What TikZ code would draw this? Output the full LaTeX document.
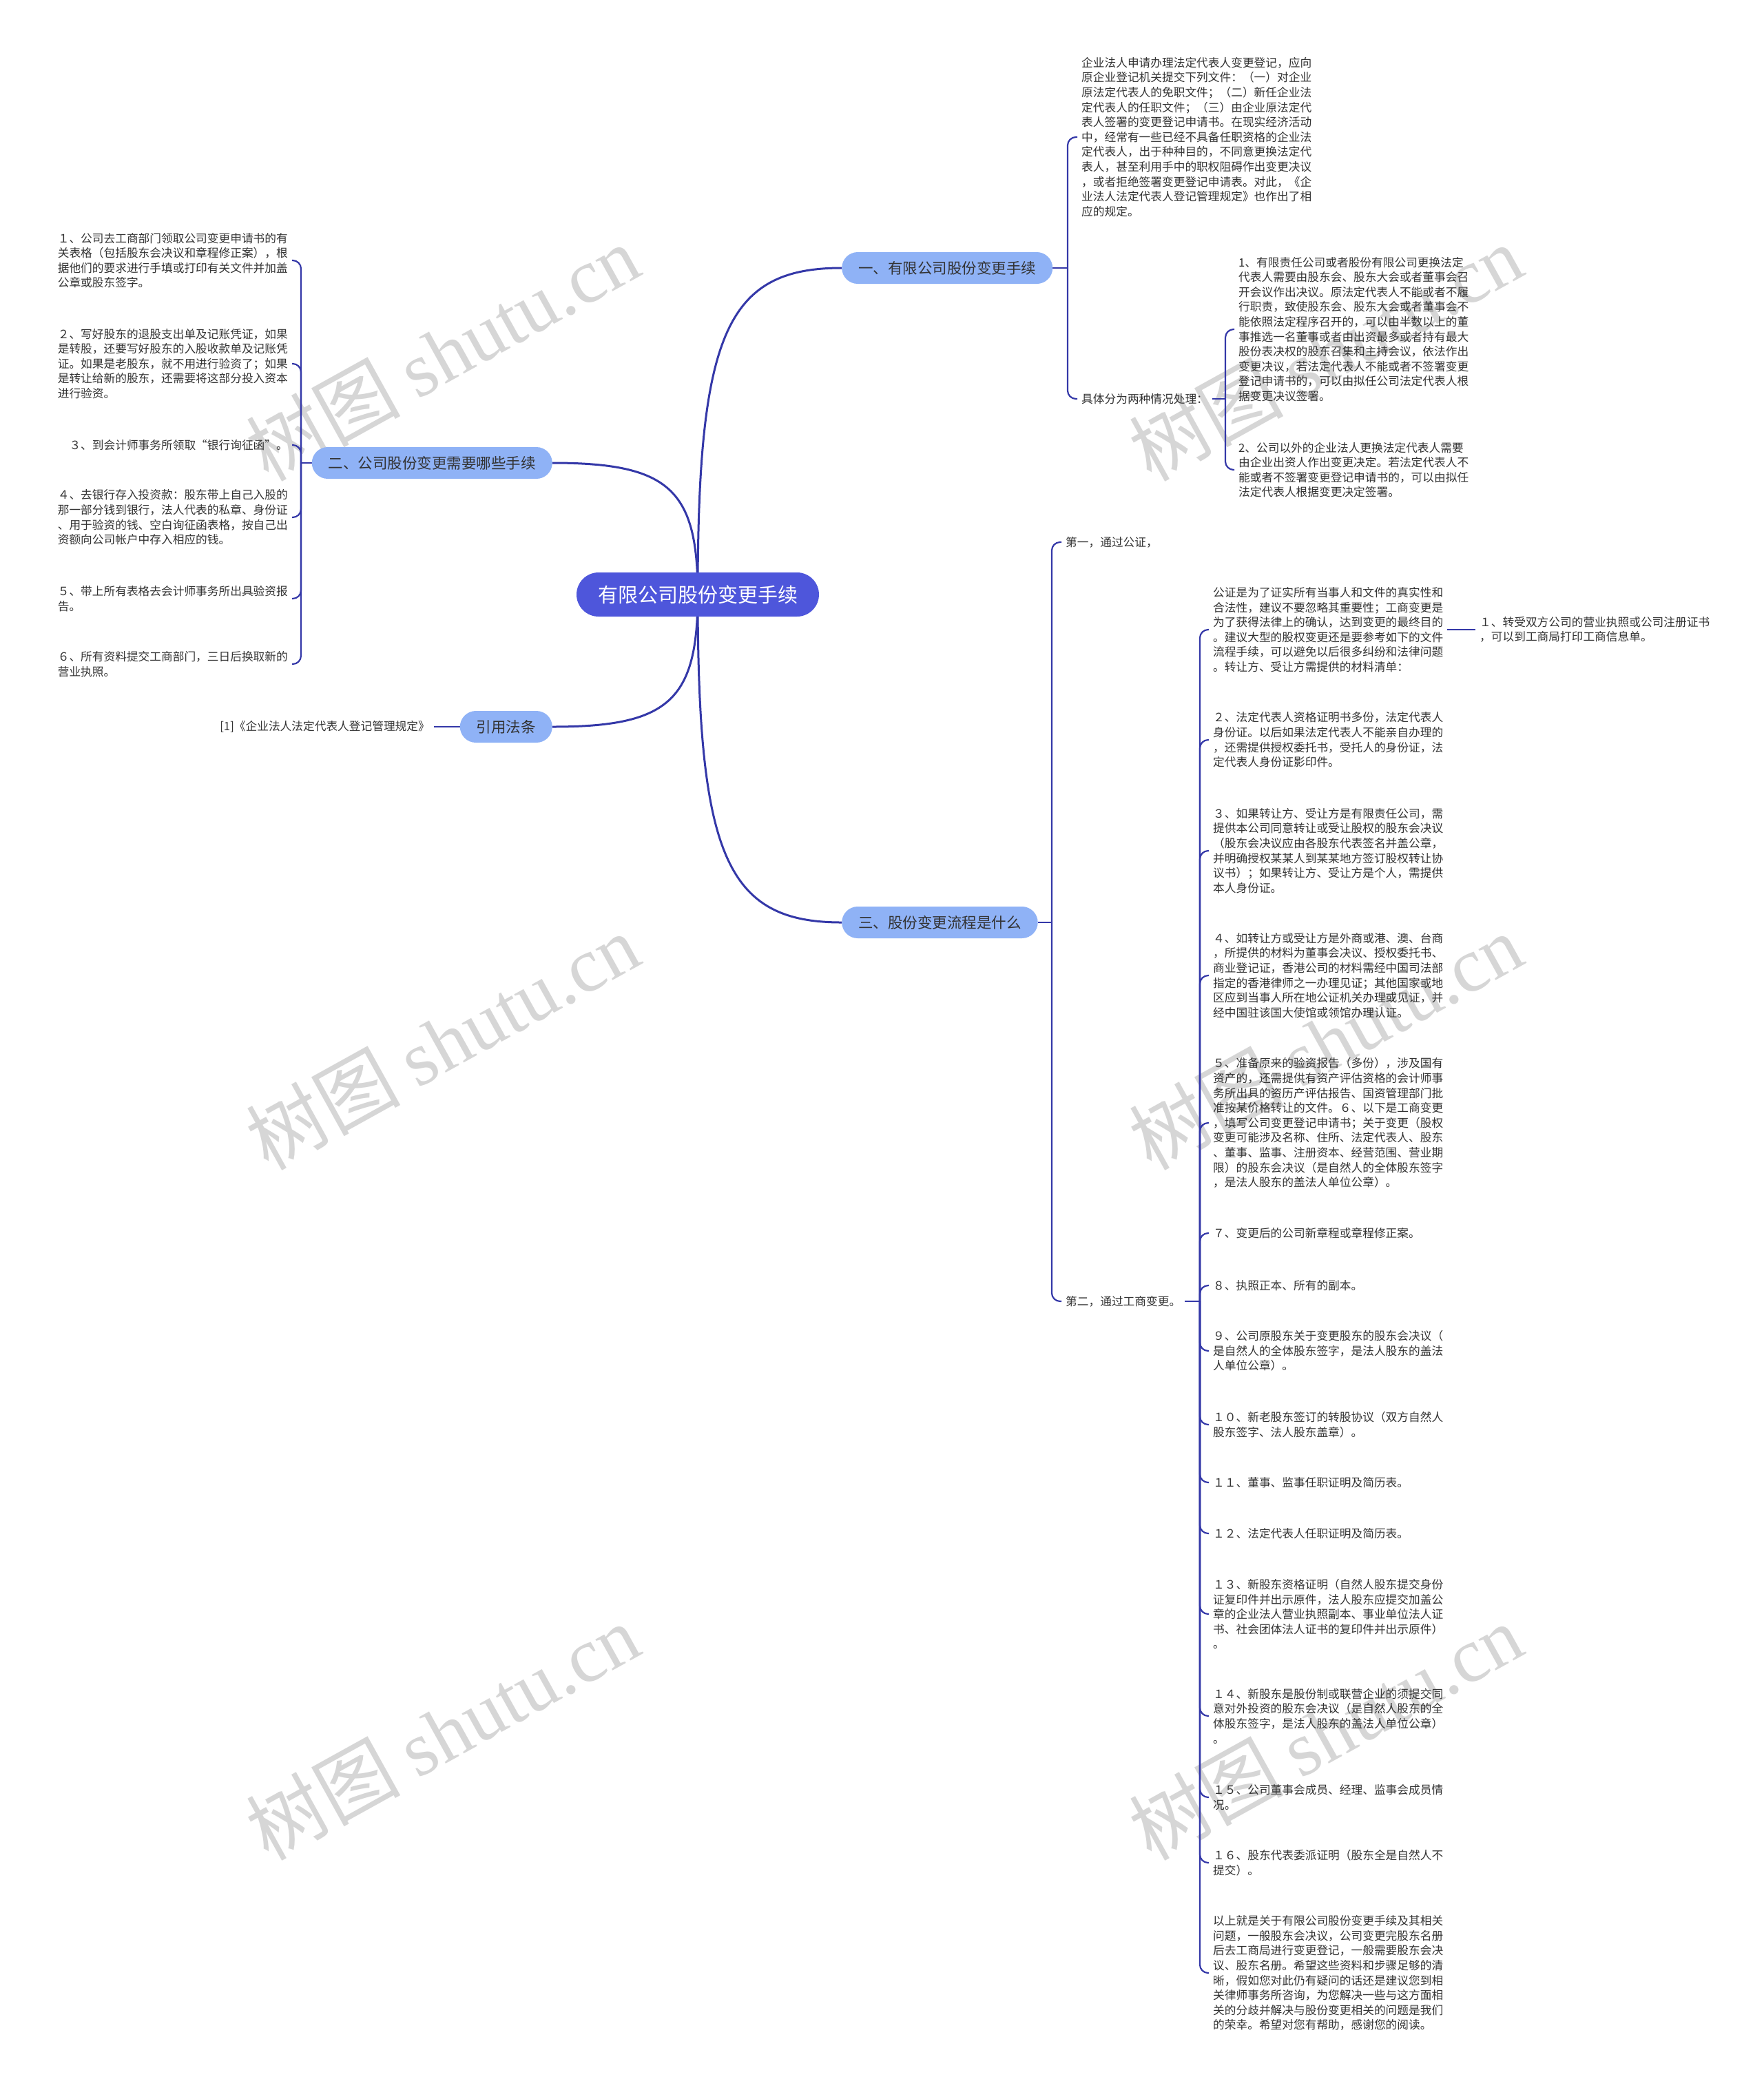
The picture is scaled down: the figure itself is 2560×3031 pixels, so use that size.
\documentclass[tikz,border=0pt]{standalone}
\usepackage{fontspec}
\setmainfont{Noto Sans CJK SC}
\newfontfamily\wmlatin{Liberation Serif}
\pgfdeclarelayer{bg}
\pgfsetlayers{bg,main}
\definecolor{linec}{RGB}{52,56,168}
\definecolor{rootfill}{RGB}{78,86,219}
\definecolor{lvfill}{RGB}{143,178,246}
\definecolor{textc}{RGB}{51,51,51}
\definecolor{wmc}{RGB}{214,214,214}
\tikzset{
  txt/.style={inner sep=6pt, align=left, text=textc, font=\fontsize{16.7}{21.6}\selectfont},
  rootnode/.style={fill=rootfill, rounded corners=32pt, minimum height=64pt, minimum width=352pt, inner sep=0pt, text=white, font=\fontsize{29}{32}\selectfont},
  lvone/.style={fill=lvfill, rounded corners=23pt, minimum height=46pt, inner xsep=24pt, inner ysep=0pt, text=textc, font=\fontsize{21.5}{24}\selectfont},
  mainline/.style={draw=linec, line width=3pt},
  subline/.style={draw=linec, line width=2.2pt},
  brk/.style={subline, rounded corners=12pt},
  wmark/.style={text=wmc, rotate=29, font=\fontsize{112}{120}\selectfont, inner sep=0pt}
}
\begin{document}
\begin{tikzpicture}[x=1pt,y=-1pt]
\useasboundingbox (0,0) rectangle (2560,3031);

% ---------- root and level one ----------
\node[rootnode] (root) at (1013,863) {有限公司股份变更手续};
\node[lvone, anchor=west] (n1) at (1222,389) {一、有限公司股份变更手续};
\node[lvone, anchor=east] (n2) at (802,672) {二、公司股份变更需要哪些手续};
\node[lvone, anchor=east] (n3) at (802,1055) {引用法条};
\node[lvone, anchor=west] (n4) at (1222,1339) {三、股份变更流程是什么};

% ---------- branch one ----------
\coordinate (b1) at (1550,389);
\node[txt, anchor=west] (a1) at (1564,199) {企业法人申请办理法定代表人变更登记，应向\\原企业登记机关提交下列文件：（一）对企业\\原法定代表人的免职文件；（二）新任企业法\\定代表人的任职文件；（三）由企业原法定代\\表人签署的变更登记申请书。在现实经济活动\\中，经常有一些已经不具备任职资格的企业法\\定代表人，出于种种目的，不同意更换法定代\\表人，甚至利用手中的职权阻碍作出变更决议\\，或者拒绝签署变更登记申请表。对此，《企\\业法人法定代表人登记管理规定》也作出了相\\应的规定。};
\node[txt, anchor=west] (a2) at (1564,579) {具体分为两种情况处理：};
\coordinate (bc) at (1779,579);
\node[txt, anchor=west] (c1) at (1792,478) {1、有限责任公司或者股份有限公司更换法定\\代表人需要由股东会、股东大会或者董事会召\\开会议作出决议。原法定代表人不能或者不履\\行职责，致使股东会、股东大会或者董事会不\\能依照法定程序召开的，可以由半数以上的董\\事推选一名董事或者由出资最多或者持有最大\\股份表决权的股东召集和主持会议，依法作出\\变更决议，若法定代表人不能或者不签署变更\\登记申请书的，可以由拟任公司法定代表人根\\据变更决议签署。};
\node[txt, anchor=west] (c2) at (1792,682) {2、公司以外的企业法人更换法定代表人需要\\由企业出资人作出变更决定。若法定代表人不\\能或者不签署变更登记申请书的，可以由拟任\\法定代表人根据变更决定签署。};

% ---------- branch two ----------
\coordinate (b2) at (437,672);
\node[txt, anchor=east] (l1) at (424,378) {１、公司去工商部门领取公司变更申请书的有\\关表格（包括股东会决议和章程修正案），根\\据他们的要求进行手填或打印有关文件并加盖\\公章或股东签字。};
\node[txt, anchor=east] (l2) at (424,528) {２、写好股东的退股支出单及记账凭证，如果\\是转股，还要写好股东的入股收款单及记账凭\\证。如果是老股东，就不用进行验资了；如果\\是转让给新的股东，还需要将这部分投入资本\\进行验资。};
\node[txt, anchor=east] (l3) at (424,646) {３、到会计师事务所领取“银行询征函”。};
\node[txt, anchor=east] (l4) at (424,751) {４、去银行存入投资款：股东带上自己入股的\\那一部分钱到银行，法人代表的私章、身份证\\、用于验资的钱、空白询征函表格，按自己出\\资额向公司帐户中存入相应的钱。};
\node[txt, anchor=east] (l5) at (424,869) {５、带上所有表格去会计师事务所出具验资报\\告。};
\node[txt, anchor=east] (l6) at (424,964) {６、所有资料提交工商部门，三日后换取新的\\营业执照。};

% ---------- citation ----------
\node[txt, anchor=east] (cite) at (630,1055) {[1]《企业法人法定代表人登记管理规定》};

% ---------- branch three ----------
\coordinate (b4) at (1527,1339);
\node[txt, anchor=west] (f1) at (1541,787) {第一，通过公证，};
\node[txt, anchor=west] (f2) at (1541,1889) {第二，通过工商变更。};
\coordinate (b5) at (1742,1889);
\node[txt, anchor=west] (g1) at (1755,914) {公证是为了证实所有当事人和文件的真实性和\\合法性，建议不要忽略其重要性；工商变更是\\为了获得法律上的确认，达到变更的最终目的\\。建议大型的股权变更还是要参考如下的文件\\流程手续，可以避免以后很多纠纷和法律问题\\。转让方、受让方需提供的材料清单：};
\node[txt, anchor=west] (h1) at (2142,914) {１、转受双方公司的营业执照或公司注册证书\\，可以到工商局打印工商信息单。};
\node[txt, anchor=west] (g2) at (1755,1074) {２、法定代表人资格证明书多份，法定代表人\\身份证。以后如果法定代表人不能亲自办理的\\，还需提供授权委托书，受托人的身份证，法\\定代表人身份证影印件。};
\node[txt, anchor=west] (g3) at (1755,1235) {３、如果转让方、受让方是有限责任公司，需\\提供本公司同意转让或受让股权的股东会决议\\（股东会决议应由各股东代表签名并盖公章，\\并明确授权某某人到某某地方签订股权转让协\\议书）；如果转让方、受让方是个人，需提供\\本人身份证。};
\node[txt, anchor=west] (g4) at (1755,1416) {４、如转让方或受让方是外商或港、澳、台商\\，所提供的材料为董事会决议、授权委托书、\\商业登记证，香港公司的材料需经中国司法部\\指定的香港律师之一办理见证；其他国家或地\\区应到当事人所在地公证机关办理或见证，并\\经中国驻该国大使馆或领馆办理认证。};
\node[txt, anchor=west] (g5) at (1755,1630) {５、准备原来的验资报告（多份），涉及国有\\资产的，还需提供有资产评估资格的会计师事\\务所出具的资历产评估报告、国资管理部门批\\准按某价格转让的文件。６、以下是工商变更\\，填写公司变更登记申请书；关于变更（股权\\变更可能涉及名称、住所、法定代表人、股东\\、董事、监事、注册资本、经营范围、营业期\\限）的股东会决议（是自然人的全体股东签字\\，是法人股东的盖法人单位公章）。};
\node[txt, anchor=west] (g7) at (1755,1790) {７、变更后的公司新章程或章程修正案。};
\node[txt, anchor=west] (g8) at (1755,1866) {８、执照正本、所有的副本。};
\node[txt, anchor=west] (g9) at (1755,1961) {９、公司原股东关于变更股东的股东会决议（\\是自然人的全体股东签字，是法人股东的盖法\\人单位公章）。};
\node[txt, anchor=west] (g10) at (1755,2068) {１０、新老股东签订的转股协议（双方自然人\\股东签字、法人股东盖章）。};
\node[txt, anchor=west] (g11) at (1755,2152) {１１、董事、监事任职证明及简历表。};
\node[txt, anchor=west] (g12) at (1755,2226) {１２、法定代表人任职证明及简历表。};
\node[txt, anchor=west] (g13) at (1755,2343) {１３、新股东资格证明（自然人股东提交身份\\证复印件并出示原件，法人股东应提交加盖公\\章的企业法人营业执照副本、事业单位法人证\\书、社会团体法人证书的复印件并出示原件）\\。};
\node[txt, anchor=west] (g14) at (1755,2491) {１４、新股东是股份制或联营企业的须提交同\\意对外投资的股东会决议（是自然人股东的全\\体股东签字，是法人股东的盖法人单位公章）\\。};
\node[txt, anchor=west] (g15) at (1755,2609) {１５、公司董事会成员、经理、监事会成员情\\况。};
\node[txt, anchor=west] (g16) at (1755,2704) {１６、股东代表委派证明（股东全是自然人不\\提交）。};
\node[txt, anchor=west] (gend) at (1755,2864) {以上就是关于有限公司股份变更手续及其相关\\问题，一般股东会决议，公司变更完股东名册\\后去工商局进行变更登记，一般需要股东会决\\议、股东名册。希望这些资料和步骤足够的清\\晰，假如您对此仍有疑问的话还是建议您到相\\关律师事务所咨询，为您解决一些与这方面相\\关的分歧并解决与股份变更相关的问题是我们\\的荣幸。希望对您有帮助，感谢您的阅读。};

% ---------- background: watermark and connectors ----------
\begin{pgfonlayer}{bg}
\fill[white] (0,0) rectangle (2560,3031);
\node[wmark] (wm1) at (642,512) {树图 {\wmlatin shutu.cn}};
\node[wmark] (wm2) at (1924,512) {树图 {\wmlatin shutu.cn}};
\node[wmark] (wm3) at (642,1512) {树图 {\wmlatin shutu.cn}};
\node[wmark] (wm4) at (1924,1512) {树图 {\wmlatin shutu.cn}};
\node[wmark] (wm5) at (642,2514) {树图 {\wmlatin shutu.cn}};
\node[wmark] (wm6) at (1924,2514) {树图 {\wmlatin shutu.cn}};

\draw[mainline] (root.center) .. controls +(0,-379) and +(-167,0) .. (n1.west);
\draw[mainline] (root.center) .. controls +(0,-153) and +(169,0) .. (n2.east);
\draw[mainline] (root.center) .. controls +(0,154) and +(169,0) .. (n3.east);
\draw[mainline] (root.center) .. controls +(0,380) and +(-167,0) .. (n4.west);

\draw[subline] (n1.east) -- (b1);
\draw[brk] (b1) |- (a1.west);
\draw[brk] (b1) |- (a2.west);
\draw[subline] (a2.east) -- (bc);
\draw[brk] (bc) |- (c1.west);
\draw[brk] (bc) |- (c2.west);

\draw[subline] (n2.west) -- (b2);
\foreach \k in {l1,l2,l3,l4,l5,l6} \draw[brk] (b2) |- (\k.east);

\draw[subline] (n3.west) -- (cite.east);

\draw[subline] (n4.east) -- (b4);
\draw[brk] (b4) |- (f1.west);
\draw[brk] (b4) |- (f2.west);
\draw[subline] (f2.east) -- (b5);
\foreach \k in {g1,g2,g3,g4,g5,g7,g8,g9,g10,g11,g12,g13,g14,g15,g16,gend} \draw[brk] (b5) |- (\k.west);
\draw[subline] (g1.east) -- (h1.west);
\end{pgfonlayer}
\end{tikzpicture}
\end{document}
